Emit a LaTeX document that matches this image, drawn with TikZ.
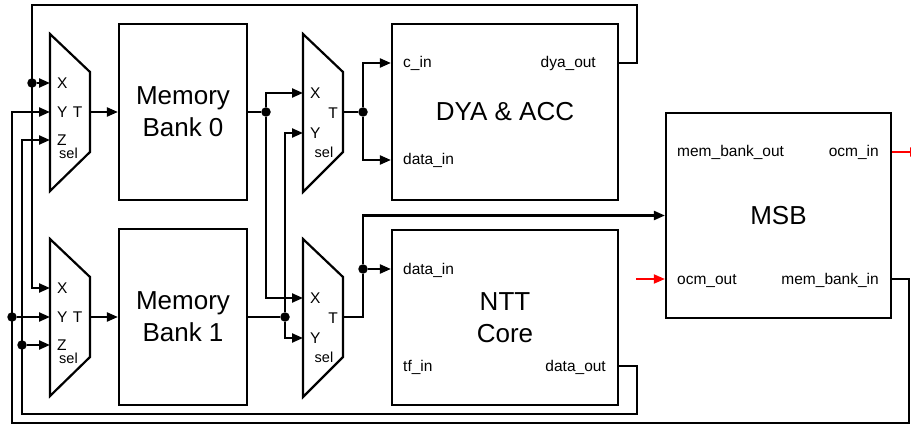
\documentclass[tikz,border=0pt]{standalone}
\usepackage{fontspec}
\setmainfont{Liberation Sans}
\usetikzlibrary{positioning, arrows.meta}
\definecolor{wirered}{HTML}{FF0000}

\begin{document}
\begin{tikzpicture}[
        x=1pt, y=-1pt,
        block/.style={rectangle, draw, line width=2.2pt, inner sep=0pt,
          minimum width=128pt, minimum height=176pt, align=center,
          font=\fontsize{26}{32}\selectfont},
        port/.style={inner sep=0pt, text height=11pt, text depth=1pt,
          font=\fontsize{15.5}{18}\selectfont},
        muxlbl/.style={inner sep=0pt, font=\fontsize{15.5}{18}\selectfont},
        sellbl/.style={inner sep=0pt, font=\fontsize{14.5}{16}\selectfont},
        muxbody/.style={line width=2.2pt, line join=miter},
        wire/.style={line width=2.2pt},
        arr/.style={wire, -{Triangle[length=11pt, width=9pt]}},
        redarr/.style={line width=1.8pt, color=wirered,
          -{Triangle[length=11pt, width=9pt]}},
        dot/.style={circle, fill, inner sep=0pt, minimum size=9.5pt},
      ]
        \useasboundingbox (0,0) rectangle (911,425);

        % blocks
        \node[block] (mb0) at (183,112) {Memory\\Bank 0};
        \node[block] (mb1) at (183,317) {Memory\\Bank 1};
        \node[block, minimum width=226pt] (dya) at (505,112) {DYA \& ACC};
        \node[block, minimum width=226pt, minimum height=175pt]
          (ntt) at (505,317.5) {NTT\\Core};
        \node[block, minimum width=225pt, minimum height=205pt]
          (msb) at (778.5,215.5) {MSB};

        % ports
        \node[port, anchor=west] (cin) at (403,63) {c\_in};
        \node[port, anchor=east] (dyaout) at (596,63) {dya\_out};
        \node[port, anchor=west] (din0) at (403,160) {data\_in};
        \node[port, anchor=west] (din1) at (403,269) {data\_in};
        \node[port, anchor=west] (tfin) at (403,366) {tf\_in};
        \node[port, anchor=east] (dout) at (606,366) {data\_out};
        \node[port, anchor=west] (mbout) at (677,152) {mem\_bank\_out};
        \node[port, anchor=east] (ocmin) at (879,152) {ocm\_in};
        \node[port, anchor=west] (ocmout) at (677,279) {ocm\_out};
        \node[port, anchor=east] (mbin) at (879,279) {mem\_bank\_in};

        % muxes
        \draw[muxbody] (50,34) -- ++(40,38) -- ++(0,80) -- ++(-40,39) -- cycle;
        \draw[muxbody] (50,239) -- ++(40,38) -- ++(0,80) -- ++(-40,39) -- cycle;
        \draw[muxbody] (303,34) -- ++(40,38) -- ++(0,80) -- ++(-40,40) -- cycle;
        \draw[muxbody] (303,239) -- ++(40,38) -- ++(0,80) -- ++(-40,40) -- cycle;

        \coordinate (mx0x) at (50,83);
        \coordinate (mx0y) at (50,112);
        \coordinate (mx0z) at (50,140);
        \coordinate (mx0t) at (90,112);
        \coordinate (mx1x) at (50,288);
        \coordinate (mx1y) at (50,317);
        \coordinate (mx1z) at (50,345);
        \coordinate (mx1t) at (90,317);
        \coordinate (mx2x) at (303,93);
        \coordinate (mx2y) at (303,133);
        \coordinate (mx2t) at (343,112);
        \coordinate (mx3x) at (303,298);
        \coordinate (mx3y) at (303,338);
        \coordinate (mx3t) at (343,317);

        \node[muxlbl, anchor=west] (mx0xl) at (57,83) {X};
        \node[muxlbl, anchor=west] (mx0yl) at (57,112) {Y};
        \node[muxlbl] (mx0tl) at (77.5,112) {T};
        \node[muxlbl, anchor=west] (mx0zl) at (57,140) {Z};
        \node[sellbl] (mx0sel) at (68.5,153) {sel};
        \node[muxlbl, anchor=west] (mx1xl) at (57,288) {X};
        \node[muxlbl, anchor=west] (mx1yl) at (57,317) {Y};
        \node[muxlbl] (mx1tl) at (77.5,317) {T};
        \node[muxlbl, anchor=west] (mx1zl) at (57,345) {Z};
        \node[sellbl] (mx1sel) at (68.5,358) {sel};
        \node[muxlbl, anchor=west] (mx2xl) at (310,93) {X};
        \node[muxlbl, anchor=west] (mx2yl) at (310,133) {Y};
        \node[muxlbl] (mx2tl) at (333,113) {T};
        \node[sellbl] (mx2sel) at (324,152) {sel};
        \node[muxlbl, anchor=west] (mx3xl) at (310,298) {X};
        \node[muxlbl, anchor=west] (mx3yl) at (310,338) {Y};
        \node[muxlbl] (mx3tl) at (333,318) {T};
        \node[sellbl] (mx3sel) at (324,357) {sel};

        % junctions
        \node[dot] (j0) at (32,83) {};
        \node[dot] (j1) at (12,317) {};
        \node[dot] (j2) at (22,345) {};
        \node[dot] (j3) at (266,112) {};
        \node[dot] (j4) at (285,317) {};
        \node[dot] (j5) at (363,112) {};
        \node[dot] (j6) at (363,269) {};
        \coordinate (ocmsrc) at (636,279);
        \coordinate (ocmdst) at (921,152);

        % feedback loops
        \draw[arr] (dya.east |- dyaout.east) -- ++(18,0) |- (32,5) |- (mx1x);
        \draw[arr] (j0) -- (mx0x);
        \draw[arr] (ntt.east |- dout.east) -- ++(18,0) |- (22,414) |- (mx0z);
        \draw[arr] (j2) -- (mx1z);
        \draw[arr] (msb.east |- mbin.east) -- ++(17,0) |- (12,423) |- (mx0y);
        \draw[arr] (j1) -- (mx1y);

        % mux to memory
        \draw[arr] (mx0t) -- (mb0.west);
        \draw[arr] (mx1t) -- (mb1.west);

        % memory to muxes
        \draw[wire] (mb0.east) -- (j3);
        \draw[arr] (j3) |- (mx2x);
        \draw[arr] (j3) |- (mx3x);
        \draw[wire] (mb1.east) -- (j4);
        \draw[arr] (j4) |- (mx2y);
        \draw[arr] (j4) |- (mx3y);

        % muxes to units
        \draw[wire] (mx2t) -- (j5);
        \draw[arr] (j5) |- (dya.west |- cin.west);
        \draw[arr] (j5) |- (dya.west |- din0.west);
        \draw[wire] (mx3t) -| (j6);
        \draw[arr] (j6) -- (ntt.west |- din1.west);
        \draw[arr] (j6) |- (msb.west);

        % off-chip memory
        \draw[redarr] (ocmsrc) -- (msb.west |- ocmsrc);
        \draw[redarr] (msb.east |- ocmdst) -- (ocmdst);
      \end{tikzpicture}
\end{document}
